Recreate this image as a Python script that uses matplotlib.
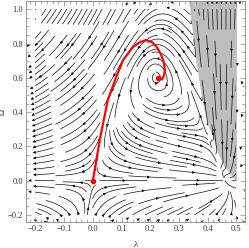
import numpy as np
import matplotlib
matplotlib.use('Agg')
import matplotlib.pyplot as plt
from matplotlib.patches import Rectangle
from matplotlib.ticker import MultipleLocator

# 灰色区域边界
omega_edge = [1.05, 0.70, 0.466, 0.327, 0.268, 0.175, 0.087, 0.029, -0.006]
lam_edge = [0.334, 0.359, 0.380, 0.400, 0.415, 0.432, 0.456, 0.484, 0.50]

# 红色轨迹
red_lam = [0.0, 0.024, 0.035, 0.052, 0.077, 0.105, 0.139, 0.164, 0.185, 0.206,
           0.223, 0.237, 0.247, 0.251, 0.247, 0.240]
red_omega = [0.0, 0.237, 0.330, 0.470, 0.586, 0.703, 0.779, 0.808, 0.820, 0.808,
             0.779, 0.738, 0.691, 0.644, 0.609, 0.591]

# 不动点
pt_lam = [0.0, 0.226]
pt_omega = [0.0, 0.600]

# 刻度
xticks = [-0.2, -0.1, 0.0, 0.1, 0.2, 0.3, 0.4, 0.5]
yticks = [-0.2, 0.0, 0.2, 0.4, 0.6, 0.8, 1.0]

# 向量场 (近似相图), 网格比画图范围大一些, 之后裁剪
lam = np.linspace(-0.3, 0.6, 360)
om = np.linspace(-0.3, 1.15, 360)
L, O = np.meshgrid(lam, om)
U = 3.97 * L * (0.46 - L) - 0.32 * O - 0.132 * L * O
G = -0.7 + 1.5 * L - 1.5 * L**2 + 0.678 * O + 3.0 * L * O - O**2
G = G - 0.8 * np.clip(0.6 - O, 0, None)**2
V = O * G
edge = np.interp(O, omega_edge[::-1], lam_edge[::-1])
inside = (L > edge) & (O > 0)
U = np.where(inside, -(L - 0.46), U)
V = np.where(inside, -2.0 * O, V)

plt.rcParams['font.family'] = ['Liberation Serif', 'DejaVu Serif']
fig = plt.figure(figsize=(2.49, 2.48), dpi=100)
ax = fig.add_axes([26 / 249, 1 - 222 / 248, 219 / 249, 221 / 248])

ax.fill_betweenx(omega_edge, lam_edge, 0.5, color='#bebebe', lw=0, zorder=0)
sp = ax.streamplot(lam, om, U, V, density=1.8, color='#111111', linewidth=0.5,
                   arrowsize=0.35, maxlength=0.4, zorder=1)
clip = Rectangle((-0.2, -0.2), 0.7, 1.2, transform=ax.transData)
sp.lines.set_clip_path(clip)
sp.arrows.set_clip_path(clip)
ax.plot(red_lam, red_omega, color='red', lw=1.6, zorder=3)
ax.plot(pt_lam, pt_omega, 'o', color='red', ms=3, zorder=4)

ax.set_xlim(-0.233, 0.53)
ax.set_ylim(-0.241, 1.048)
ax.set_xticks(xticks)
ax.set_yticks(yticks)
ax.set_xticklabels([('%.1f' % t).replace('-', '\u2212') for t in xticks])
ax.set_yticklabels([('%.1f' % t).replace('-', '\u2212') for t in yticks])
ax.xaxis.set_minor_locator(MultipleLocator(0.02))
ax.yaxis.set_minor_locator(MultipleLocator(0.05))
ax.tick_params(which='both', direction='in', top=True, right=True,
               colors='#888888', labelcolor='#333333', labelsize=6, pad=2)
ax.tick_params(which='major', length=3.5, width=0.5)
ax.tick_params(which='minor', length=2, width=0.5)
for s in ax.spines.values():
    s.set_color('#888888')
    s.set_linewidth(0.6)
ax.set_xlabel('λ', fontsize=6, color='#333333', labelpad=6)
ax.set_ylabel('Ω', fontsize=6, color='#333333', labelpad=1)

fig.savefig('out.png', dpi=100)
